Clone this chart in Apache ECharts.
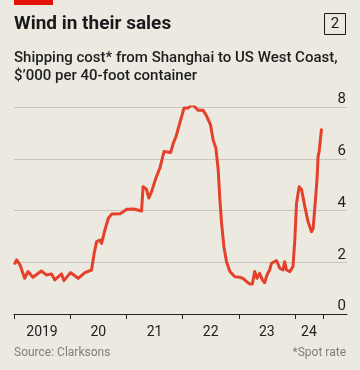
<!DOCTYPE html>
<html>
<head>
<meta charset="utf-8">
<script src="https://cdn.jsdelivr.net/npm/echarts@6/dist/echarts.min.js"></script>
<style>
html,body{margin:0;padding:0;background:#ebe9e0;}
#c{width:360px;height:370px;}
</style>
</head>
<body>
<div id="c"></div>
<script>
const dates = ['2019-01-07','2019-01-18','2019-02-09','2019-03-11','2019-04-02','2019-05-04','2019-06-28','2019-07-30','2019-09-02','2019-09-23','2019-11-06','2019-11-21','2020-01-04','2020-02-22','2020-04-06','2020-05-19','2020-06-05','2020-06-21','2020-07-12','2020-07-23','2020-08-14','2020-09-05','2020-09-27','2020-11-20','2021-01-03','2021-02-15','2021-04-09','2021-04-19','2021-05-11','2021-05-26','2021-06-13','2021-06-23','2021-07-11','2021-08-06','2021-09-02','2021-10-15','2021-11-01','2021-11-19','2021-12-14','2022-01-10','2022-02-07','2022-03-01','2022-03-20','2022-04-11','2022-05-14','2022-06-05','2022-07-01','2022-07-18','2022-08-05','2022-08-20','2022-08-31','2022-09-11','2022-09-26','2022-10-13','2022-11-04','2022-12-06','2023-01-08','2023-01-30','2023-02-21','2023-03-13','2023-03-30','2023-04-14','2023-04-29','2023-05-16','2023-06-03','2023-06-18','2023-07-03','2023-07-20','2023-08-01','2023-09-03','2023-09-24','2023-10-15','2023-10-26','2023-11-07','2023-11-28','2023-12-19','2023-12-31','2024-01-11','2024-01-28','2024-02-13','2024-03-05','2024-03-26','2024-04-17','2024-04-28','2024-05-13','2024-05-23','2024-05-30','2024-06-06','2024-06-21'];
const values = [1.96,2.09,1.9,1.38,1.64,1.42,1.66,1.51,1.55,1.32,1.55,1.29,1.6,1.38,1.6,1.7,2.35,2.8,2.86,2.73,3.25,3.7,3.86,3.87,4.05,4.06,3.98,4.92,4.82,4.48,4.73,4.7,5.25,5.64,6.28,6.24,6.6,6.86,7.4,7.96,7.96,8.09,8.02,7.87,7.87,7.66,7.31,6.73,6.41,5.57,4.41,3.51,2.6,2.02,1.64,1.44,1.42,1.37,1.25,1.16,1.16,1.64,1.38,1.57,1.32,1.21,1.51,1.7,1.96,2.06,1.77,1.7,2.02,1.7,1.64,1.83,2.86,4.28,4.92,4.8,4.15,3.57,3.18,3.31,4.41,5.18,6.08,6.28,7.12];
const tickDates = ['2019-01-01','2020-01-01','2021-01-01','2022-01-01','2023-01-01','2024-01-01','2024-07-01'];
const labelDates = ['2019-07-02','2020-07-02','2021-07-02','2022-07-02','2023-07-02','2024-04-01'];
const labelTexts = ['2019','20','21','22','23','24'];
const yTicks = [0,2,4,6,8];

const ts = d => new Date(d + 'T00:00:00Z').getTime();
const labelTs = labelDates.map(ts);
const FONT = 'Roboto';

const chart = echarts.init(document.getElementById('c'), null, {renderer:'canvas'});
chart.setOption({
  backgroundColor: '#ebe9e0',
  animation: false,
  textStyle: {fontFamily: FONT},
  grid: {left: 14, right: 13, top: 107, bottom: 56, containLabel: false},
  graphic: [
    {type:'rect', shape:{x:14,y:0,width:39,height:5}, style:{fill:'#e3120b'}},
    {type:'text', left:14, top:15, style:{text:'Wind in their sales', font:'bold 19px Roboto', fill:'#1a1a1a'}},
    {type:'rect', shape:{x:324.5,y:13.5,width:21,height:21}, style:{fill:'none', stroke:'#1a1a1a', lineWidth:1}},
    {type:'text', x:335, y:24.5, style:{text:'2', font:'15px Roboto', fill:'#1a1a1a', align:'center', verticalAlign:'middle'}},
    {type:'text', left:14, top:49, style:{text:'Shipping cost* from Shanghai to US West Coast,\n$\u2019000 per 40-foot container', font:'500 15px Roboto', lineHeight:18, fill:'#1e1e1e'}},
    {type:'text', left:14, top:347, style:{text:'Source: Clarksons', font:'12px Roboto', fill:'#7f7f7f'}},
    {type:'text', right:14, top:347, style:{text:'*Spot rate', font:'12px Roboto', fill:'#7f7f7f', align:'right'}}
  ],
  xAxis: {
    type: 'value',
    min: ts('2019-01-01'),
    max: ts('2024-12-04'),
    axisLine: {show:true, lineStyle:{color:'#222', width:1}},
    axisTick: {show:true, length:5, lineStyle:{color:'#222', width:1}, customValues: tickDates.map(ts)},
    axisLabel: {
      customValues: labelTs,
      margin: 11,
      fontSize: 14,
      color: '#222',
      fontFamily: FONT,
      showMinLabel: true, showMaxLabel: true,
      formatter: function (v) {
        let best = 0, bd = Infinity;
        labelTs.forEach((t, i) => { const d = Math.abs(t - v); if (d < bd) { bd = d; best = i; } });
        return labelTexts[best];
      }
    },
    splitLine: {show:false}
  },
  yAxis: {
    type: 'value',
    position: 'right',
    min: 0, max: 8, interval: 2,
    axisLine: {show:false},
    axisTick: {show:false},
    axisLabel: {inside:true, margin:1, fontSize:15, color:'#222', fontFamily: FONT, verticalAlign:'bottom', lineHeight:15, padding:[0,0,0,0],
      formatter: v => yTicks.includes(v) ? String(v) : ''},
    splitLine: {show:true, lineStyle:{color:'#c8c6bc', width:1}}
  },
  series: [{
    type: 'line',
    data: dates.map((d, i) => [ts(d), values[i]]),
    showSymbol: false,
    lineStyle: {color:'#e5402a', width:3, join:'round', cap:'round'},
    z: 5
  }]
});
</script>
</body>
</html>
